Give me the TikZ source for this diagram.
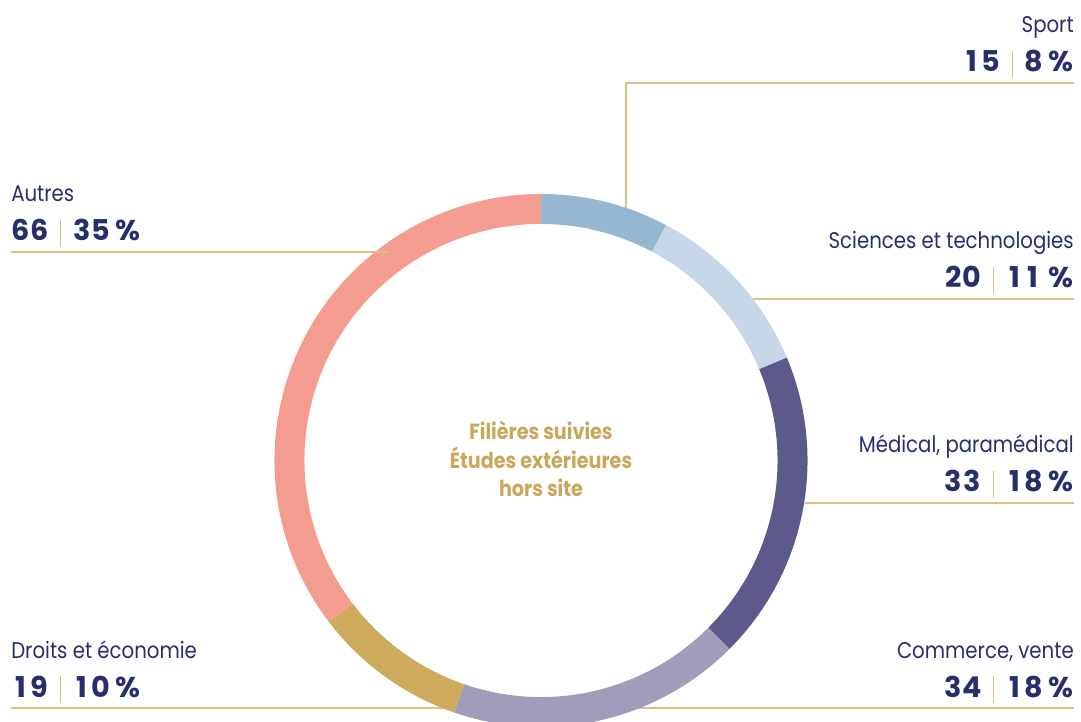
\documentclass[tikz,border=0pt]{standalone}
\usepackage{fontspec}
\setmainfont{Poppins}
\newfontfamily\namefont{Poppins}[FakeStretch=0.87]
\usetikzlibrary{positioning}
\definecolor{pienavy}{HTML}{262F6C}
\definecolor{piegold}{HTML}{DBC084}
\definecolor{ctrgold}{HTML}{C9A75C}
\definecolor{segsport}{HTML}{96B7D0}
\definecolor{segsci}{HTML}{C6D8E7}
\definecolor{segmed}{HTML}{5C5A8B}
\definecolor{segcom}{HTML}{A29CBA}
\definecolor{segdroit}{HTML}{CEAA5C}
\definecolor{segautre}{HTML}{F59C90}
% digits set on equal widths
\def\tabnum#1{\tabnumA#1\relax}
\def\tabnumA#1{\ifx#1\relax\else\makebox[\fontcharwd\font`0]{#1}\expandafter\tabnumA\fi}
\newcommand{\pieval}[2]{\tabnum{#1}\hspace{8.5pt}\textcolor{piegold}{\rule[-4.3pt]{0.9pt}{20pt}}\hspace{8.5pt}\tabnum{#2} \%}

\begin{document}
\begin{tikzpicture}[x=0.75pt, y=0.75pt,
    pie name/.style={inner sep=0pt, text=pienavy, font=\namefont\fontsize{17}{20}\selectfont},
    pie val/.style={inner sep=0pt, text=pienavy, font=\bfseries\fontsize{21.5}{25}\selectfont},
    pie line/.style={draw=piegold, line width=1.1pt}]
    \useasboundingbox (0,0) rectangle (1081,721);
    % lines that run under the ring
    \coordinate (droitend) at (11,13);
    \coordinate (comend) at (1074,13);
    \draw[pie line] (droitend) -- (comend);
    % ring
    \begin{scope}[shift={(541,260.5)}]
        \foreach \a/\b/\c in {90/62/segsport, 62/22.7/segsci, 22.7/-45/segmed,
                              -45/-109/segcom, -109/-142.8/segdroit, -142.8/-270/segautre}
            \fill[\c] (\a:199.9pt) arc[start angle=\a, end angle=\b, radius=199.9pt]
                -- (\b:177.4pt) arc[start angle=\b, end angle=\a, radius=177.4pt] -- cycle;
    \end{scope}
    \node[align=center, text=ctrgold, font=\namefont\bfseries\fontsize{16.5}{21.4}\selectfont] (title) at (541,262)
        {Filières suivies\\Études extérieures\\hors site};
    % label lines
    \coordinate (sportring) at (626,513);
    \coordinate (sportknee) at (626,638);
    \coordinate (sportend) at (1074,638);
    \coordinate (sciring) at (753,422);
    \coordinate (sciend) at (1074,422);
    \coordinate (medring) at (805,218);
    \coordinate (medend) at (1074,218);
    \coordinate (autreend) at (11,469);
    \coordinate (autrering) at (388,469);
    \draw[pie line] (sportring) -- (sportknee) -- (sportend);
    \draw[pie line] (sciring) -- (sciend);
    \draw[pie line] (medring) -- (medend);
    \draw[pie line] (autreend) -- (autrering);
    % labels, right side
    \node[pie val, above=8.25pt of sportend, anchor=base east] (sportval) {\pieval{15}{8}};
    \node[pie name, above=37.5pt of sportend, anchor=base east] (sportname) {Sport};
    \node[pie val, above=8.25pt of sciend, anchor=base east] (scival) {\pieval{20}{11}};
    \node[pie name, above=37.5pt of sciend, anchor=base east] (sciname) {Sciences et technologies};
    \node[pie val, above=8.25pt of medend, anchor=base east] (medval) {\pieval{33}{18}};
    \node[pie name, above=37.5pt of medend, anchor=base east] (medname) {Médical, paramédical};
    \node[pie val, above=8.25pt of comend, anchor=base east] (comval) {\pieval{34}{18}};
    \node[pie name, above=37.5pt of comend, anchor=base east] (comname) {Commerce, vente};
    % labels, left side
    \node[pie val, above=8.25pt of autreend, anchor=base west] (autreval) {\pieval{66}{35}};
    \node[pie name, above=37.5pt of autreend, anchor=base west] (autrename) {Autres};
    \node[pie val, above=8.25pt of droitend, anchor=base west] (droitval) {\pieval{19}{10}};
    \node[pie name, above=37.5pt of droitend, anchor=base west] (droitname) {Droits et économie};
\end{tikzpicture}
\end{document}
